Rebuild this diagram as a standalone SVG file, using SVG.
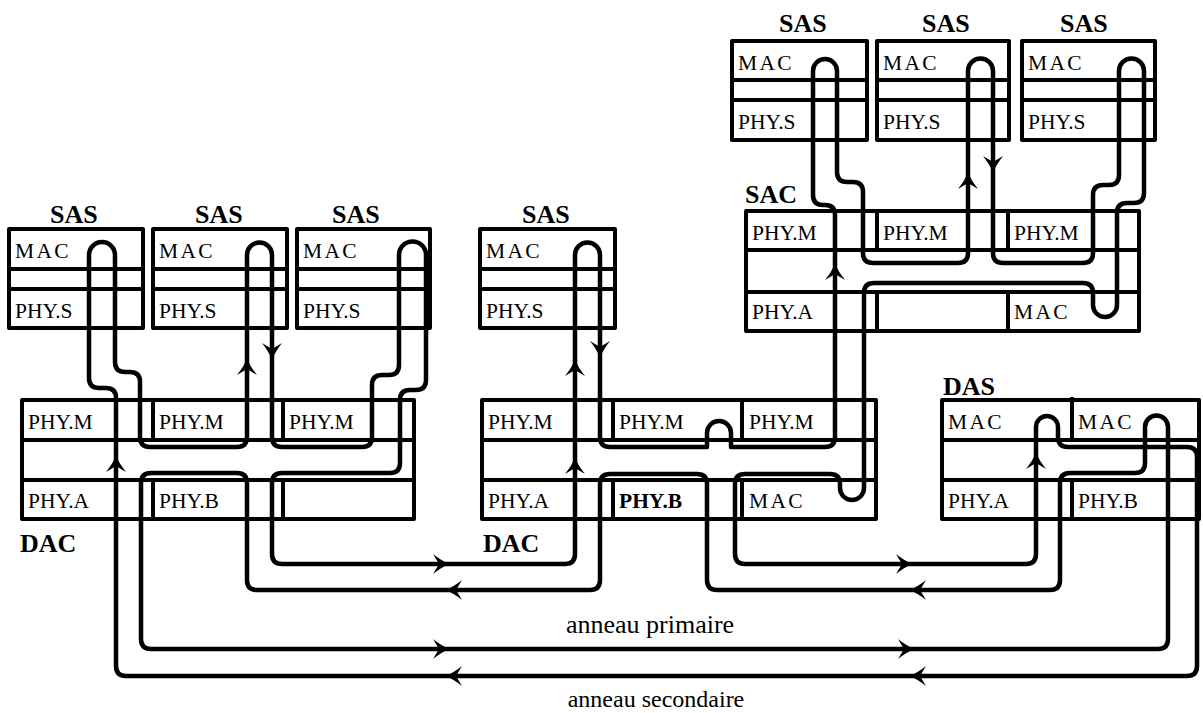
<svg xmlns="http://www.w3.org/2000/svg" xmlns:xlink="http://www.w3.org/1999/xlink" width="1203" height="713" viewBox="0 0 1203 713">
<style>
.box{fill:none;stroke:#000;stroke-width:4;stroke-linejoin:round}
.ln{fill:none;stroke:#000;stroke-width:4.5;stroke-linejoin:round;stroke-linecap:round}
.t{font-family:"Liberation Serif","Times New Roman",serif;font-size:21.5px;fill:#000}
.mac{letter-spacing:2.3px}
.lbl{font-family:"Liberation Serif","Times New Roman",serif;font-size:26px;font-weight:bold;fill:#000}
.cap{font-family:"Liberation Serif","Times New Roman",serif;font-size:24px;fill:#000;text-anchor:middle}
.big{font-size:26px}
</style>
<defs>
<path id="ah" d="M0,0 C-6,-2 -12,-6 -17,-10 L-11,0 L-17,10 C-12,6 -6,2 0,0 Z" fill="#000"/>
</defs>
<rect width="1203" height="713" fill="#fff"/>

<g id="sas1">
<text class="lbl" x="50" y="223">SAS</text>
<rect class="box" x="9" y="229" width="134" height="99"/>
<path class="box" d="M9 269H143M9 289H143"/>
<text class="t mac" x="15" y="258">MAC</text>
<text class="t" x="15" y="318">PHY.S</text>
</g>
<g id="sas2">
<text class="lbl" x="195" y="223">SAS</text>
<rect class="box" x="153" y="229" width="134" height="99"/>
<path class="box" d="M153 269H287M153 289H287"/>
<text class="t mac" x="159" y="258">MAC</text>
<text class="t" x="159" y="318">PHY.S</text>
</g>
<g id="sas3">
<text class="lbl" x="332" y="223">SAS</text>
<rect class="box" x="297" y="229" width="133" height="99"/>
<path class="box" d="M297 269H430M297 289H430"/>
<text class="t mac" x="303" y="258">MAC</text>
<text class="t" x="303" y="318">PHY.S</text>
</g>
<g id="sas4">
<text class="lbl" x="522" y="223">SAS</text>
<rect class="box" x="480" y="229" width="135" height="99"/>
<path class="box" d="M480 269H615M480 289H615"/>
<text class="t mac" x="486" y="258">MAC</text>
<text class="t" x="486" y="318">PHY.S</text>
</g>
<g id="sas5">
<text class="lbl" x="779" y="32">SAS</text>
<rect class="box" x="732" y="41" width="135" height="99"/>
<path class="box" d="M732 80H867M732 100H867"/>
<text class="t mac" x="738" y="70">MAC</text>
<text class="t" x="738" y="129">PHY.S</text>
</g>
<g id="sas6">
<text class="lbl" x="922" y="32">SAS</text>
<rect class="box" x="877" y="41" width="132" height="99"/>
<path class="box" d="M877 80H1009M877 100H1009"/>
<text class="t mac" x="883" y="70">MAC</text>
<text class="t" x="883" y="129">PHY.S</text>
</g>
<g id="sas7">
<text class="lbl" x="1060" y="32">SAS</text>
<rect class="box" x="1022" y="41" width="133" height="99"/>
<path class="box" d="M1022 80H1155M1022 100H1155"/>
<text class="t mac" x="1028" y="70">MAC</text>
<text class="t" x="1028" y="129">PHY.S</text>
</g>

<g id="dac1">
<rect class="box" x="22" y="400" width="392" height="119"/>
<path class="box" d="M22 440H414M22 480H414M153 400V440M283 400V440M153 480V519M283 480V519"/>
<text class="t" x="28" y="429">PHY.M</text>
<text class="t" x="159" y="429">PHY.M</text>
<text class="t" x="289" y="429">PHY.M</text>
<text class="t" x="28" y="508">PHY.A</text>
<text class="t" x="159" y="508">PHY.B</text>
<text class="lbl" x="20" y="552">DAC</text>
</g>
<g id="dac2">
<rect class="box" x="482" y="400" width="394" height="119"/>
<path class="box" d="M482 440H876M482 480H876M613 400V440M742 400V440M613 480V519M742 480V519"/>
<text class="t" x="488" y="429">PHY.M</text>
<text class="t" x="619" y="429">PHY.M</text>
<text class="t" x="749" y="429">PHY.M</text>
<text class="t" x="488" y="508">PHY.A</text>
<text class="t" x="619" y="508" style="font-weight:bold">PHY.B</text>
<text class="t mac" x="749" y="508">MAC</text>
<text class="lbl" x="483" y="552">DAC</text>
</g>
<g id="sac">
<text class="lbl" x="745" y="203">SAC</text>
<rect class="box" x="746" y="211" width="393" height="120"/>
<path class="box" d="M746 250H1139M746 292H1139M877 211V250M1008 211V250M877 292V331M1008 292V331"/>
<text class="t" x="752" y="240">PHY.M</text>
<text class="t" x="883" y="240">PHY.M</text>
<text class="t" x="1014" y="240">PHY.M</text>
<text class="t" x="752" y="319">PHY.A</text>
<text class="t mac" x="1014" y="319">MAC</text>
</g>
<g id="das">
<text class="lbl" x="943" y="395">DAS</text>
<rect class="box" x="942" y="400" width="257" height="119"/>
<path class="box" d="M942 440H1199M942 480H1199M1072 397V440M1072 480V519"/>
<text class="t mac" x="948" y="429">MAC</text>
<text class="t mac" x="1078" y="429">MAC</text>
<text class="t" x="948" y="508">PHY.A</text>
<text class="t" x="1078" y="508">PHY.B</text>
</g>

<g id="connectors">
<path class="ln" d="M1187 676H126Q116 676 116 666V398Q116 388 106 388H99Q89 388 89 378V255A13 13 0 0 1 115 255V362Q115 372 125 372H130Q140 372 140 382V437Q140 447 150 447H237Q247 447 247 437V255A12.5 12.5 0 0 1 272 255V437Q272 447 282 447H362Q372 447 372 437V385Q372 375 382 375H389Q399 375 399 365V255A13.5 13.5 0 0 1 426 255V380Q426 390 416 390H410Q400 390 400 400V463Q400 473 390 473H282Q272 473 272 483V554Q272 564 282 564H565Q575 564 575 554V255A12.5 12.5 0 0 1 600 255V437Q600 447 610 447H707V433A12 12 0 0 1 731 433V447H825Q835 447 835 437V215Q835 205 825 205H823Q813 205 813 195V71A12 12 0 0 1 837 71V172Q837 182 847 182H853Q863 182 863 192V253Q863 263 873 263H958Q968 263 968 253V71A12.5 12.5 0 0 1 993 71V253Q993 263 1003 263H1083Q1093 263 1093 253V195Q1093 185 1103 185H1109Q1119 185 1119 175V71A12.5 12.5 0 0 1 1144 71V193Q1144 203 1134 203H1127Q1117 203 1117 213V305A12 12 0 0 1 1093 305V293Q1093 283 1083 283H874Q864 283 864 293V488A12 12 0 0 1 840 488V484Q840 474 830 474H745Q735 474 735 484V554Q735 564 745 564H1026Q1036 564 1036 554V427A11 11 0 0 1 1058 427V437Q1058 447 1068 447H1187Q1197 447 1197 457V666Q1197 676 1187 676Z"/>
<path class="ln" d="M257 590Q247 590 247 580V483Q247 473 237 473H151Q141 473 141 483V639Q141 649 151 649H1158Q1168 649 1168 639V427A11.5 11.5 0 0 0 1145 427V463Q1145 473 1135 473H1070Q1060 473 1060 483V580Q1060 590 1050 590H717Q707 590 707 580V484Q707 474 697 474H610Q600 474 600 484V580Q600 590 590 590Z"/>
<use xlink:href="#ah" transform="translate(247,358) rotate(-90)"/>
<use xlink:href="#ah" transform="translate(272,360) rotate(90)"/>
<use xlink:href="#ah" transform="translate(116,455) rotate(-90)"/>
<use xlink:href="#ah" transform="translate(575,359) rotate(-90)"/>
<use xlink:href="#ah" transform="translate(600,358) rotate(90)"/>
<use xlink:href="#ah" transform="translate(575,457) rotate(-90)"/>
<use xlink:href="#ah" transform="translate(835,263) rotate(-90)"/>
<use xlink:href="#ah" transform="translate(968,172) rotate(-90)"/>
<use xlink:href="#ah" transform="translate(993,173) rotate(90)"/>
<use xlink:href="#ah" transform="translate(1036,452) rotate(-90)"/>
<use xlink:href="#ah" transform="translate(450,564)"/>
<use xlink:href="#ah" transform="translate(445,590) rotate(180)"/>
<use xlink:href="#ah" transform="translate(913,564)"/>
<use xlink:href="#ah" transform="translate(909,590) rotate(180)"/>
<use xlink:href="#ah" transform="translate(450,649)"/>
<use xlink:href="#ah" transform="translate(915,649)"/>
<use xlink:href="#ah" transform="translate(445,676) rotate(180)"/>
<use xlink:href="#ah" transform="translate(909,676) rotate(180)"/>
</g>
<text class="cap big" x="650" y="633">anneau primaire</text>
<text class="cap" x="656" y="707">anneau secondaire</text>
</svg>
